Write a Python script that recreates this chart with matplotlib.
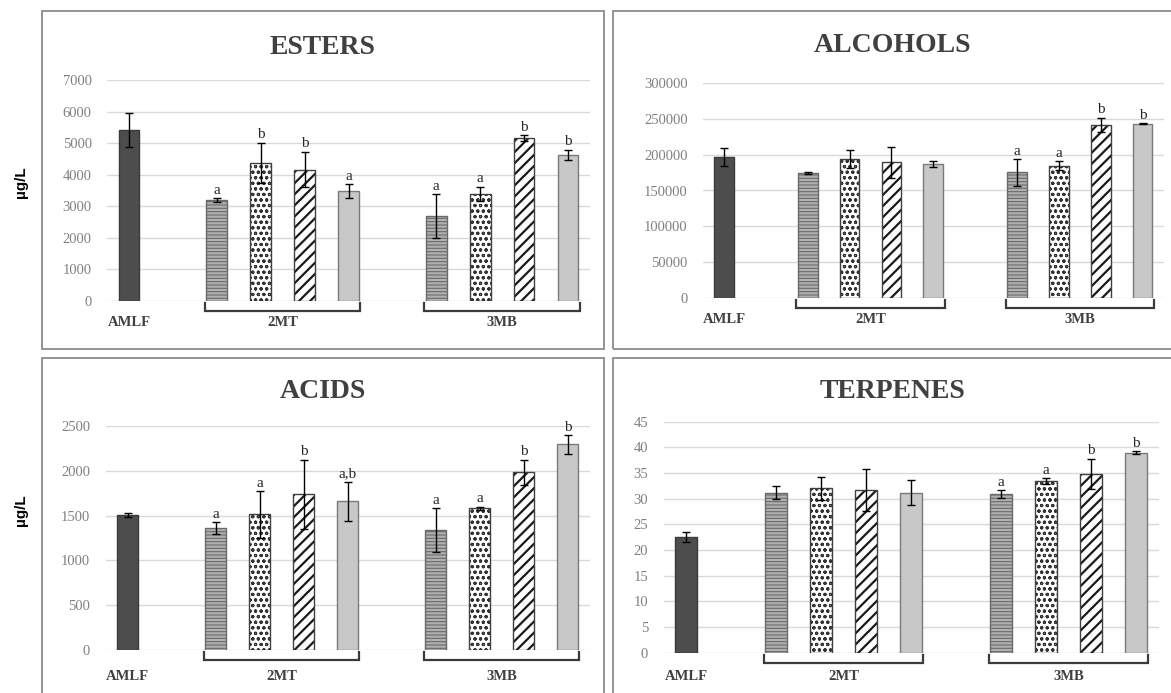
import matplotlib
matplotlib.use("Agg")
import matplotlib.pyplot as plt
import matplotlib.transforms as mtransforms
from matplotlib.patches import Rectangle
from matplotlib.lines import Line2D

W, H, DPI = 1171, 693, 100

# ---------------- data ----------------
groups = ["AMLF", "2MT", "3MB"]
group_centers = [0, 3.5, 8.5]
bar_positions = [0, 2, 3, 4, 5, 7, 8, 9, 10]

esters_mean = [5410, 3190, 4370, 4160, 3480, 2680, 3380, 5150, 4620]
esters_err = [530, 60, 640, 560, 210, 700, 230, 100, 170]
esters_letters = ["", "a", "b", "b", "a", "a", "a", "b", "b"]
esters_ticks = [0, 1000, 2000, 3000, 4000, 5000, 6000, 7000]

alcohols_mean = [196500, 174200, 194000, 189500, 187300, 175300, 184800, 241800, 243200]
alcohols_err = [12500, 1500, 13000, 21800, 4000, 18500, 6500, 10000, 1000]
alcohols_letters = ["", "", "", "", "", "a", "a", "b", "b"]
alcohols_ticks = [0, 50000, 100000, 150000, 200000, 250000, 300000]

acids_mean = [1505, 1358, 1515, 1740, 1660, 1335, 1580, 1985, 2295]
acids_err = [20, 65, 260, 385, 215, 245, 20, 140, 105]
acids_letters = ["", "a", "a", "b", "a,b", "a", "a", "b", "b"]
acids_ticks = [0, 500, 1000, 1500, 2000, 2500]

terpenes_mean = [22.5, 31.2, 32.0, 31.7, 31.2, 30.9, 33.4, 34.8, 39.0]
terpenes_err = [1.0, 1.3, 2.2, 4.0, 2.4, 0.8, 0.6, 3.0, 0.2]
terpenes_letters = ["", "", "", "", "", "a", "a", "b", "b"]
terpenes_ticks = [0, 5, 10, 15, 20, 25, 30, 35, 40, 45]

# ---------------- styles ----------------
SERIF = "Liberation Serif"
SANS = "Liberation Sans"
TICK_COLOR = "#808080"
TEXT_DARK = "#404040"

# (facecolor, hatch colour, hatch, hatch linewidth, outline colour)
bar_styles = [
    ("#4d4d4d", "#4d4d4d", None, 1.0, "#3a3a3a"),      # AMLF
    ("#b0b0b0", "#6a6a6a", "-----", 0.8, "#6a6a6a"),  # horizontal lines
    ("#ffffff", "#333333", "ooo", 0.8, "#404040"),    # dots
    ("#ffffff", "#1a1a1a", "///", 1.6, "#404040"),    # diagonal stripes
    ("#c8c8c8", "#c8c8c8", None, 1.0, "#7a7a7a"),      # light grey
]
style_index = [0, 1, 2, 3, 4, 1, 2, 3, 4]

# panel geometry in pixels: x of first bar, slot width, zero line y, top grid y,
# title centre, frame box, distance of category labels below zero line
panels = [
    dict(name="ESTERS", mean=esters_mean, err=esters_err, letters=esters_letters,
         ticks=esters_ticks, x0=129, slot=43.9, y0=300.7, ytop=80,
         title=(323, 47), frame=(42, 11, 604, 349), lab=22),
    dict(name="ALCOHOLS", mean=alcohols_mean, err=alcohols_err, letters=alcohols_letters,
         ticks=alcohols_ticks, x0=724, slot=41.86, y0=298, ytop=83,
         title=(892, 45), frame=(613, 11, 1180, 349), lab=22),
    dict(name="ACIDS", mean=acids_mean, err=acids_err, letters=acids_letters,
         ticks=acids_ticks, x0=127.5, slot=44.0, y0=650, ytop=426,
         title=(323, 392), frame=(42, 358, 604, 700), lab=27),
    dict(name="TERPENES", mean=terpenes_mean, err=terpenes_err, letters=terpenes_letters,
         ticks=terpenes_ticks, x0=686, slot=45.0, y0=652.7, ytop=421.7,
         title=(892, 392), frame=(613, 358, 1180, 700), lab=24),
]

fig = plt.figure(figsize=(W / DPI, H / DPI), dpi=DPI)
fig.patch.set_facecolor("white")

BAR_W = 0.47

for p in panels:
    # frame around each panel
    fx0, fy0, fx1, fy1 = p["frame"]
    fig.add_artist(Rectangle((fx0 / W, 1 - fy1 / H), (fx1 - fx0) / W, (fy1 - fy0) / H,
                             transform=fig.transFigure, fill=False,
                             edgecolor="#8c8c8c", linewidth=1.3, clip_on=False))

    left = p["x0"] - 0.5 * p["slot"]
    right = p["x0"] + 10.5 * p["slot"]
    h_px = p["y0"] - p["ytop"]
    ax = fig.add_axes([left / W, 1 - p["y0"] / H, (right - left) / W, h_px / H])
    ax.set_xlim(-0.5, 10.5)
    ax.set_ylim(p["ticks"][0], p["ticks"][-1])
    ax.set_facecolor("none")
    for s in ax.spines.values():
        s.set_visible(False)
    ax.set_yticks(p["ticks"])
    ax.set_yticklabels([str(t) for t in p["ticks"]], fontfamily=SERIF,
                       fontsize=10.5, color=TICK_COLOR)
    ax.tick_params(axis="y", length=0, pad=11)
    ax.set_xticks([])
    ax.yaxis.grid(True, color="#d9d9d9", linewidth=1.0, zorder=0)
    ax.set_axisbelow(True)

    for x, m, e, lt, si in zip(bar_positions, p["mean"], p["err"], p["letters"], style_index):
        fc, hc, hatch, hlw, ec = bar_styles[si]
        plt.rcParams["hatch.linewidth"] = hlw
        ax.bar(x, m, width=BAR_W, color=fc, edgecolor=hc, linewidth=0,
               hatch=hatch, zorder=2)
        ax.bar(x, m, width=BAR_W, fill=False, edgecolor=ec, linewidth=1.0, zorder=3)
        ax.errorbar(x, m, yerr=e, fmt="none", ecolor="black", elinewidth=1.0,
                    capsize=3, capthick=1.0, zorder=4)
        if lt:
            ax.annotate(lt, (x, m + e), xytext=(0, 1.0), textcoords="offset points",
                        ha="center", va="bottom", fontfamily=SERIF, fontsize=11,
                        color="#262626", annotation_clip=False)

    # category labels and brackets under the groups
    trans = mtransforms.blended_transform_factory(ax.transData, ax.transAxes)
    for g, c in zip(groups, group_centers):
        ax.annotate(g, xy=(c, 0), xycoords=trans, xytext=(0, -p["lab"] * 0.72),
                    textcoords="offset points", ha="center", va="center",
                    fontfamily=SERIF, fontweight="bold", fontsize=10.5,
                    color=TEXT_DARK, annotation_clip=False)
        if g != "AMLF":
            bx0, bx1 = c - 1.77, c + 1.77
            ytip, ybase = -2.0 / h_px, -10.0 / h_px
            ax.add_line(Line2D([bx0, bx0, bx1, bx1], [ytip, ybase, ybase, ytip],
                               transform=trans, color="#3a3a3a", linewidth=1.6,
                               clip_on=False, solid_joinstyle="miter"))

    fig.text(p["title"][0] / W, 1 - p["title"][1] / H, p["name"],
             ha="center", va="center", fontfamily=SERIF, fontweight="bold",
             fontsize=20, color=TEXT_DARK)

# shared y-axis labels
for yc in (182, 510):
    fig.text(21 / W, 1 - yc / H, "µg/L", rotation=90, ha="center", va="center",
             fontfamily=SANS, fontweight="bold", fontsize=11, color="black")

fig.savefig("out.png", dpi=DPI, facecolor="white")
